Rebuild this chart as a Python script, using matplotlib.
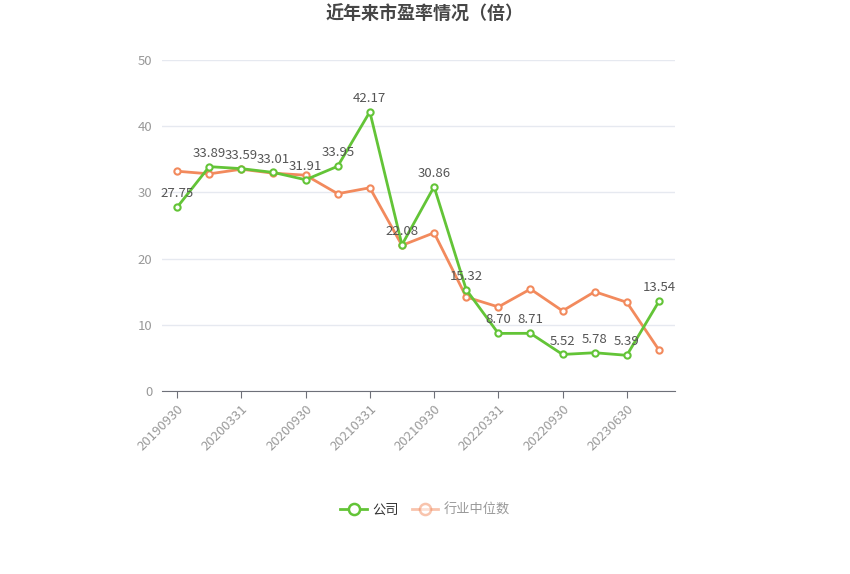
import matplotlib
matplotlib.use('Agg')
import matplotlib.pyplot as plt
from matplotlib.lines import Line2D

plt.rcParams['font.family'] = ['Noto Sans CJK SC', 'DejaVu Sans']

# data
dates = ['20190930', '20191231', '20200331', '20200630', '20200930', '20201231',
         '20210331', '20210630', '20210930', '20211231', '20220331', '20220630',
         '20220930', '20221231', '20230630', '20230930']
company = [27.75, 33.89, 33.59, 33.01, 31.91, 33.95, 42.17, 22.08, 30.86, 15.32,
           8.70, 8.71, 5.52, 5.78, 5.39, 13.54]
industry = [33.2, 32.8, 33.5, 32.9, 32.6, 29.8, 30.7, 22.0, 23.9, 14.2,
            12.7, 15.4, 12.1, 15.0, 13.4, 6.2]

green = '#63c437'
orange = '#f28a5d'

fig = plt.figure(figsize=(8.5, 5.74), dpi=100)
ax = fig.add_axes([162 / 850, 1 - 391 / 574, (675 - 162) / 850, (391 - 60) / 574])

x = list(range(len(dates)))
ax.plot(x, industry, color=orange, lw=2, marker='o', ms=4.5, mfc='white',
        mec=orange, mew=1.5, zorder=3)
ax.plot(x, company, color=green, lw=2, marker='o', ms=4.5, mfc='white',
        mec=green, mew=1.5, zorder=4)

for xi, v in zip(x, company):
    ax.annotate(f'{v:.2f}', (xi, v), xytext=(0, 5), textcoords='offset points',
                ha='center', va='bottom', fontsize=9.5, color='#555555', zorder=5)

ax.set_xlim(-0.47, 15.5)
ax.set_ylim(0, 50)
ax.set_yticks([0, 10, 20, 30, 40, 50])
ax.grid(axis='y', color='#e6e9f0', lw=1)
ax.set_axisbelow(True)
for s in ['top', 'right', 'left']:
    ax.spines[s].set_visible(False)
ax.spines['bottom'].set_color('#6e7079')
ax.tick_params(axis='y', length=0, labelcolor='#999999', labelsize=9.5, pad=7)

tick_idx = x[::2]
ax.set_xticks(tick_idx)
ax.set_xticklabels([dates[i] for i in tick_idx], rotation=45, ha='right',
                   rotation_mode='anchor', fontsize=9.5, color='#999999')
ax.tick_params(axis='x', length=5, color='#6e7079')

fig.text(0.5, 1 - 14 / 574, '近年来市盈率情况（倍）', ha='center', va='center',
         fontsize=13, fontweight='bold', color='#464646')

handles = [
    Line2D([], [], color=green, lw=2, marker='o', ms=8, mfc='white', mec=green, mew=1.8),
    Line2D([], [], color=orange, lw=2, marker='o', ms=8, mfc='white', mec=orange,
           mew=1.8, alpha=0.5),
]
leg = fig.legend(handles, ['公司', '行业中位数'], loc='center',
                 bbox_to_anchor=(0.5, 1 - 510 / 574), ncol=2, frameon=False,
                 fontsize=9.5, handlelength=2.0, columnspacing=1.0, handletextpad=0.4)
leg.get_texts()[0].set_color('#333333')
leg.get_texts()[1].set_color('#999999')

fig.savefig('out.png', dpi=100)
